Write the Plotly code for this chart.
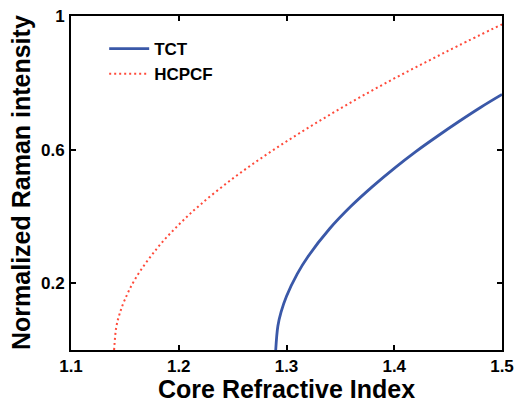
import plotly.graph_objects as go

# Core refractive index vs normalized Raman intensity
tct_n = [1.29, 1.292, 1.295, 1.30, 1.31, 1.32, 1.34, 1.36, 1.38, 1.40, 1.42, 1.44, 1.46, 1.48, 1.50]
tct_y = [0.0, 0.072, 0.114, 0.161, 0.228, 0.280, 0.363, 0.431, 0.490, 0.544, 0.594, 0.640, 0.684, 0.726, 0.765]

hc_n = [1.14, 1.142, 1.145, 1.15, 1.16, 1.18, 1.20, 1.22, 1.25, 1.28, 1.31, 1.34, 1.37, 1.40, 1.43, 1.46, 1.50]
hc_y = [0.0, 0.068, 0.107, 0.151, 0.215, 0.305, 0.375, 0.435, 0.513, 0.582, 0.645, 0.704, 0.760, 0.813, 0.863, 0.912, 0.975]

x_ticks = [1.1, 1.2, 1.3, 1.4, 1.5]
x_labels = ["1.1", "1.2", "1.3", "1.4", "1.5"]
y_ticks = [0.2, 0.6, 1.0]
y_labels = ["0.2", "0.6", "1"]
x_title = "Core Refractive Index"
y_title = "Normalized Raman intensity"

FONT = "Liberation Sans, Arial, sans-serif"

fig = go.Figure()
fig.add_trace(go.Scatter(x=tct_n, y=tct_y, mode="lines", name="<b>TCT</b>",
                         line=dict(color="#3a58a8", width=2.8, shape="spline")))
fig.add_trace(go.Scatter(x=hc_n, y=hc_y, mode="lines", name="<b>HCPCF</b>",
                         line=dict(color="#ff4a3a", width=2, dash="2px,3px", shape="spline")))

axis_common = dict(showline=True, linecolor="black", linewidth=2, mirror="ticks",
                   ticks="inside", ticklen=5, tickwidth=2, tickcolor="black",
                   showgrid=False, zeroline=False, automargin=False,
                   tickfont=dict(family=FONT, size=17, color="black"))

fig.update_layout(
    width=517, height=403,
    margin=dict(l=71, r=15, t=16, b=53),
    paper_bgcolor="white", plot_bgcolor="white",
    font=dict(family=FONT, color="black"),
    xaxis=dict(range=[1.1, 1.5], tickvals=x_ticks,
               ticktext=["<b>%s</b>" % t for t in x_labels],
               ticklabelstandoff=0, **axis_common),
    yaxis=dict(range=[0, 1], tickvals=y_ticks,
               ticktext=["<b>%s</b>" % t for t in y_labels],
               ticklabelstandoff=1, **axis_common),
    legend=dict(x=0.077, y=0.955, xanchor="left", yanchor="top",
                bgcolor="rgba(0,0,0,0)", itemwidth=40,
                font=dict(family=FONT, size=17, color="black"),
                tracegroupgap=0),
    showlegend=True,
    annotations=[
        dict(text="<b>%s</b>" % x_title, xref="paper", yref="paper",
             x=0.5, y=-0.116, xanchor="center", yanchor="middle", showarrow=False,
             font=dict(family=FONT, size=25, color="black")),
        dict(text="<b>%s</b>" % y_title, xref="paper", yref="paper",
             x=-0.116, y=0.5, xanchor="center", yanchor="middle", showarrow=False,
             textangle=-90, font=dict(family=FONT, size=25, color="black")),
    ],
)

fig.write_html("out.html")
